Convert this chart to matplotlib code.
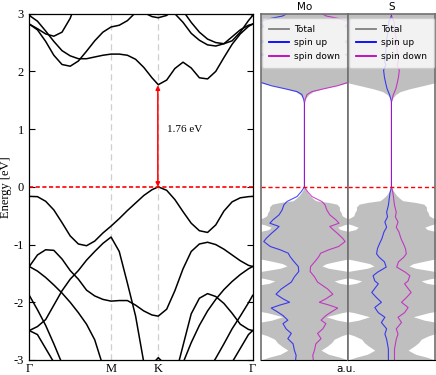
import numpy as np
import matplotlib
matplotlib.use('Agg')
import matplotlib.pyplot as plt
from matplotlib.lines import Line2D

plt.rcParams['axes.unicode_minus'] = False
serif = ['Liberation Serif', 'DejaVu Serif']

# k-path Gamma - M - K - Gamma
k_path = [0.0, 0.1, 0.2, 0.3, 0.4, 0.5, 0.6, 0.7, 0.8, 0.9, 1.0, 1.1, 1.2, 1.3, 1.4, 1.5,
          1.577, 1.68, 1.78, 1.88, 1.98, 2.08, 2.18, 2.28, 2.38, 2.48, 2.58, 2.68, 2.732]
k_ticks = [0.0, 1.0, 1.577, 2.732]
k_labels = ['Γ', 'M', 'K', 'Γ']
gap = 1.76

# valence bands (eV)
vb_1 = [-0.165, -0.17, -0.25, -0.40, -0.62, -0.85, -0.99, -1.02, -0.94, -0.80,
        -0.68, -0.55, -0.41, -0.28, -0.15, -0.05, 0.0, -0.06, -0.22, -0.43,
        -0.63, -0.76, -0.79, -0.66, -0.42, -0.26, -0.19, -0.17, -0.165]
vb_2 = [-1.38, -1.18, -1.09, -1.10, -1.25, -1.45, -1.60, -1.79, -1.89, -1.95,
        -1.98, -1.97, -1.97, -2.05, -2.15, -2.22, -2.24, -2.12, -1.80, -1.42,
        -1.12, -0.99, -0.96, -1.0, -1.08, -1.18, -1.28, -1.36, -1.38]
vb_3 = [-2.49, -2.42, -2.30, -2.05, -1.80, -1.60, -1.45, -1.27, -1.12, -0.98,
        -0.87, -1.12, -1.67, -2.24, -3.04, -3.6, -3.8, -3.8, -3.3, -2.75,
        -2.2, -1.93, -1.85, -1.9, -2.02, -2.19, -2.38, -2.47, -2.49]
vb_4 = [-1.88, -2.13, -2.40, -2.72, -3.06, -3.4, -3.6, -3.6, -3.6, -3.6,
        -3.6, -3.6, -3.6, -3.6, -3.6, -3.6, -3.6, -3.6, -3.6, -3.6,
        -3.6, -3.6, -3.2, -2.97, -2.72, -2.46, -2.24, -2.01, -1.88]
vb_5 = [-1.38, -1.46, -1.57, -1.70, -1.84, -2.0, -2.18, -2.38, -2.65, -3.1,
        -3.4, -3.6, -3.6, -3.6, -3.6, -3.6, -3.6, -3.6, -3.4, -3.05,
        -2.7, -2.40, -2.15, -1.95, -1.78, -1.64, -1.52, -1.42, -1.38]
vb_6 = [-2.49, -2.56, -2.80, -3.04, -3.4, -3.6, -3.6, -3.6, -3.6, -3.6,
        -3.6, -3.6, -3.6, -3.6, -3.6, -3.6, -3.6, -3.6, -3.6, -3.6,
        -3.6, -3.6, -3.6, -3.6, -3.4, -3.04, -2.80, -2.56, -2.49]
vb_7 = [-3.6, -3.6, -3.6, -3.6, -3.6, -3.6, -3.6, -3.6, -3.6, -3.6,
        -3.6, -3.6, -3.6, -3.6, -3.4, -3.08, -2.96, -3.1, -3.4, -3.6,
        -3.6, -3.6, -3.6, -3.6, -3.6, -3.6, -3.6, -3.6, -3.6]

# conduction bands (eV)
cb_1 = [2.97, 2.87, 2.70, 2.52, 2.36, 2.27, 2.22, 2.22, 2.25, 2.28,
        2.30, 2.30, 2.28, 2.21, 2.07, 1.89, 1.77, 1.85, 2.05, 2.16,
        2.06, 1.89, 1.87, 2.00, 2.24, 2.47, 2.65, 2.78, 2.82]
cb_2 = [2.82, 2.72, 2.52, 2.28, 2.12, 2.09, 2.18, 2.35, 2.53, 2.68,
        2.77, 2.80, 2.88, 3.02, 3.2, 3.4, 3.5, 3.4, 3.0, 2.85,
        2.66, 2.54, 2.46, 2.44, 2.48, 2.60, 2.72, 2.80, 2.82]
cb_3 = [2.82, 2.74, 2.65, 2.61, 2.68, 2.92, 3.3, 3.5, 3.5, 3.5,
        3.5, 3.5, 3.5, 3.5, 3.5, 3.5, 3.5, 3.5, 3.3, 3.05,
        2.85, 2.68, 2.56, 2.50, 2.48, 2.53, 2.68, 2.88, 2.97]
cb_4 = [2.97, 3.05, 3.2, 3.5, 3.5, 3.5, 3.5, 3.5, 3.5, 3.5,
        3.5, 3.5, 3.5, 3.5, 3.5, 3.5, 3.5, 3.5, 3.5, 3.5,
        3.5, 3.5, 3.5, 3.5, 3.5, 3.5, 3.15, 3.02, 2.97]
cb_5 = [3.5, 3.5, 3.5, 3.5, 3.5, 3.5, 3.5, 3.5, 3.5, 3.5,
        3.5, 3.5, 3.5, 3.1, 3.02, 2.95, 2.93, 2.97, 3.1, 3.2,
        3.5, 3.5, 3.5, 3.5, 3.5, 3.5, 3.5, 3.5, 3.5]

bands = [vb_1, vb_2, vb_3, vb_4, vb_5, vb_6, vb_7, cb_1, cb_2, cb_3, cb_4, cb_5]

# total DOS (shared by both panels), arbitrary units
e_tot = [-3.0, -2.95, -2.90, -2.83, -2.76, -2.70, -2.64, -2.58, -2.52, -2.45,
         -2.37, -2.31, -2.25, -2.18, -2.12, -2.0, -1.80, -1.72, -1.67, -1.63,
         -1.59, -1.55, -1.50, -1.46, -1.41, -1.37, -1.33, -1.28, -1.22, -1.15,
         -1.05, -0.95, -0.85, -0.78, -0.74, -0.70, -0.66, -0.62, -0.58, -0.54,
         -0.50, -0.45, -0.40, -0.35, -0.30, -0.27, -0.24, -0.20, -0.15, -0.10,
         -0.05, 0.0, 1.48, 1.55, 1.60, 1.65, 1.70, 1.75, 1.80, 1.85,
         1.95, 3.0]
dos_tot = [1.0, 0.80, 0.55, 0.38, 0.52, 0.62, 0.68, 0.85, 1.1, 1.4,
           1.2, 0.75, 0.50, 0.85, 1.3, 1.6, 1.5, 1.2, 0.8, 0.68,
           0.9, 1.2, 1.3, 0.95, 0.55, 0.40, 0.5, 0.8, 1.2, 1.5,
           1.6, 1.6, 1.4, 1.05, 0.82, 0.76, 0.90, 1.10, 1.15, 0.95,
           0.86, 0.84, 0.80, 0.80, 0.74, 0.55, 0.26, 0.19, 0.12, 0.07,
           0.03, 0.0, 0.0, 0.04, 0.10, 0.20, 0.42, 0.70, 0.98, 1.3,
           1.6, 1.6]

# Mo projected DOS
e_mo = [-3.0, -2.98, -2.92, -2.83, -2.72, -2.63, -2.54, -2.46, -2.37, -2.31,
        -2.23, -2.17, -2.10, -2.05, -2.0, -1.94, -1.86, -1.77, -1.65, -1.56,
        -1.467, -1.381, -1.294, -1.207, -1.150, -1.092, -1.034, -0.947, -0.890, -0.803,
        -0.745, -0.687, -0.630, -0.572, -0.485, -0.399, -0.312, -0.254, -0.168, -0.081,
        0.0, 1.45, 1.52, 1.60, 1.65, 1.70, 1.75, 1.81, 1.88, 2.0,
        2.15, 2.29, 2.38, 2.52, 2.62, 2.72, 2.78, 2.86, 2.92, 2.96,
        3.0]
mo_up = [0.2, 0.2, 0.19, 0.23, 0.26, 0.38, 0.30, 0.42, 0.49, 0.38,
         0.49, 0.61, 0.76, 0.57, 0.34, 0.49, 0.65, 0.53, 0.30, 0.23,
         0.13, 0.14, 0.24, 0.33, 0.37, 0.55, 0.78, 0.93, 0.87, 0.75,
         0.66, 0.58, 0.79, 0.72, 0.58, 0.51, 0.47, 0.40, 0.17, 0.07,
         0.0, 0.0, 0.02, 0.06, 0.17, 0.45, 0.75, 1.0, 1.3, 1.5,
         1.3, 0.93, 1.2, 0.93, 1.2, 1.1, 0.93, 1.05, 0.76, 0.5,
         0.4]
mo_down = list(mo_up)

# S projected DOS
e_s = [-3.0, -2.81, -2.64, -2.55, -2.46, -2.35, -2.26, -2.18, -2.09, -2.0,
       -1.92, -1.83, -1.68, -1.63, -1.54, -1.48, -1.39, -1.30, -1.22, -1.16,
       -1.07, -0.98, -0.90, -0.78, -0.70, -0.61, -0.52, -0.44, -0.32, -0.2,
       -0.09, 0.0, 1.47, 1.59, 1.70, 1.79, 1.90, 2.02, 2.11, 2.19,
       2.34, 2.51, 2.68, 2.86, 2.92, 2.97, 3.0]
s_up = [0.07, 0.07, 0.11, 0.15, 0.11, 0.23, 0.15, 0.30, 0.38, 0.23,
        0.34, 0.45, 0.30, 0.38, 0.42, 0.32, 0.12, 0.16, 0.28, 0.34,
        0.32, 0.27, 0.22, 0.17, 0.11, 0.15, 0.09, 0.11, 0.07, 0.05,
        0.03, 0.0, 0.0, 0.04, 0.10, 0.13, 0.16, 0.18, 0.13, 0.16,
        0.13, 0.12, 0.08, 0.06, 0.02, 0.0, 0.0]
s_down = list(s_up)

W, H = 436, 375
fig = plt.figure(figsize=(W / 100, H / 100), dpi=100)

# ---- band structure ----
ax_b = fig.add_axes([29.3 / W, 15 / H, 223.4 / W, 346.3 / H])
for kv in k_ticks[1:3]:
    ax_b.axvline(kv, color='#cfcfcf', lw=0.9, dashes=(5, 3), zorder=0)
for band in bands:
    ax_b.plot(k_path, band, color='black', lw=1.1)
ax_b.axhline(0, color='red', lw=1.2, dashes=(2.5, 1.5))
ax_b.annotate('', xy=(1.572, gap), xytext=(1.572, 0.0),
              arrowprops=dict(arrowstyle='<|-|>', color='red', lw=1.1,
                              mutation_scale=6, shrinkA=0, shrinkB=0))
ax_b.text(1.68, 1.0, '%.2f eV' % gap, fontsize=8, va='center', family=serif)
ax_b.set_xlim(0, k_path[-1])
ax_b.set_ylim(-3, 3)
ax_b.set_yticks(range(-3, 4))
ax_b.set_xticks(k_ticks)
ax_b.set_xticklabels(k_labels)
ax_b.tick_params(axis='y', direction='in', length=4, right=True, labelsize=9, pad=4)
ax_b.tick_params(axis='x', length=0, pad=2, labelsize=9)
for lab in ax_b.get_xticklabels() + ax_b.get_yticklabels():
    lab.set_family(serif)
ax_b.set_ylabel('Energy [eV]', family=serif, fontsize=9, labelpad=1)
for sp in ax_b.spines.values():
    sp.set_linewidth(0.9)

# ---- projected DOS ----
handles = [Line2D([], [], color='gray', lw=1.3, label='Total'),
           Line2D([], [], color='blue', lw=1.3, label='spin up'),
           Line2D([], [], color='m', lw=1.3, label='spin down')]

panels = [(260.7, 'Mo', e_mo, mo_up, mo_down), (347.7, 'S', e_s, s_up, s_down)]
for left, name, e, up, down in panels:
    ax = fig.add_axes([left / W, 15 / H, 87.5 / W, 346.3 / H])
    ax.fill_betweenx(e_tot, -np.array(dos_tot), dos_tot, color='gray', alpha=0.5, lw=0)
    ax.plot(-np.array(up), e, color='blue', lw=0.8, alpha=0.7)
    ax.plot(down, e, color='m', lw=0.8, alpha=0.7)
    ax.axhline(0, color='red', lw=1.0, dashes=(3, 2))
    ax.set_xlim(-1, 1)
    ax.set_ylim(-3, 3)
    ax.set_xticks([])
    ax.set_yticks([])
    for side in ['left', 'right', 'top']:
        ax.spines[side].set_color('#707070')
        ax.spines[side].set_linewidth(1.2)
    ax.spines['bottom'].set_linewidth(0.8)
    ax.set_title(name, fontsize=7.5, pad=3)
    ax.legend(handles=handles, loc='upper center', fontsize=6.5, handlelength=2.2,
              handletextpad=0.6, labelspacing=0.5, borderpad=0.75, framealpha=0.8)

fig.text(346.7 / W, 1 - 369 / H, 'a.u.', fontsize=7.5, ha='center', va='center')

fig.savefig('out.png', dpi=100)
